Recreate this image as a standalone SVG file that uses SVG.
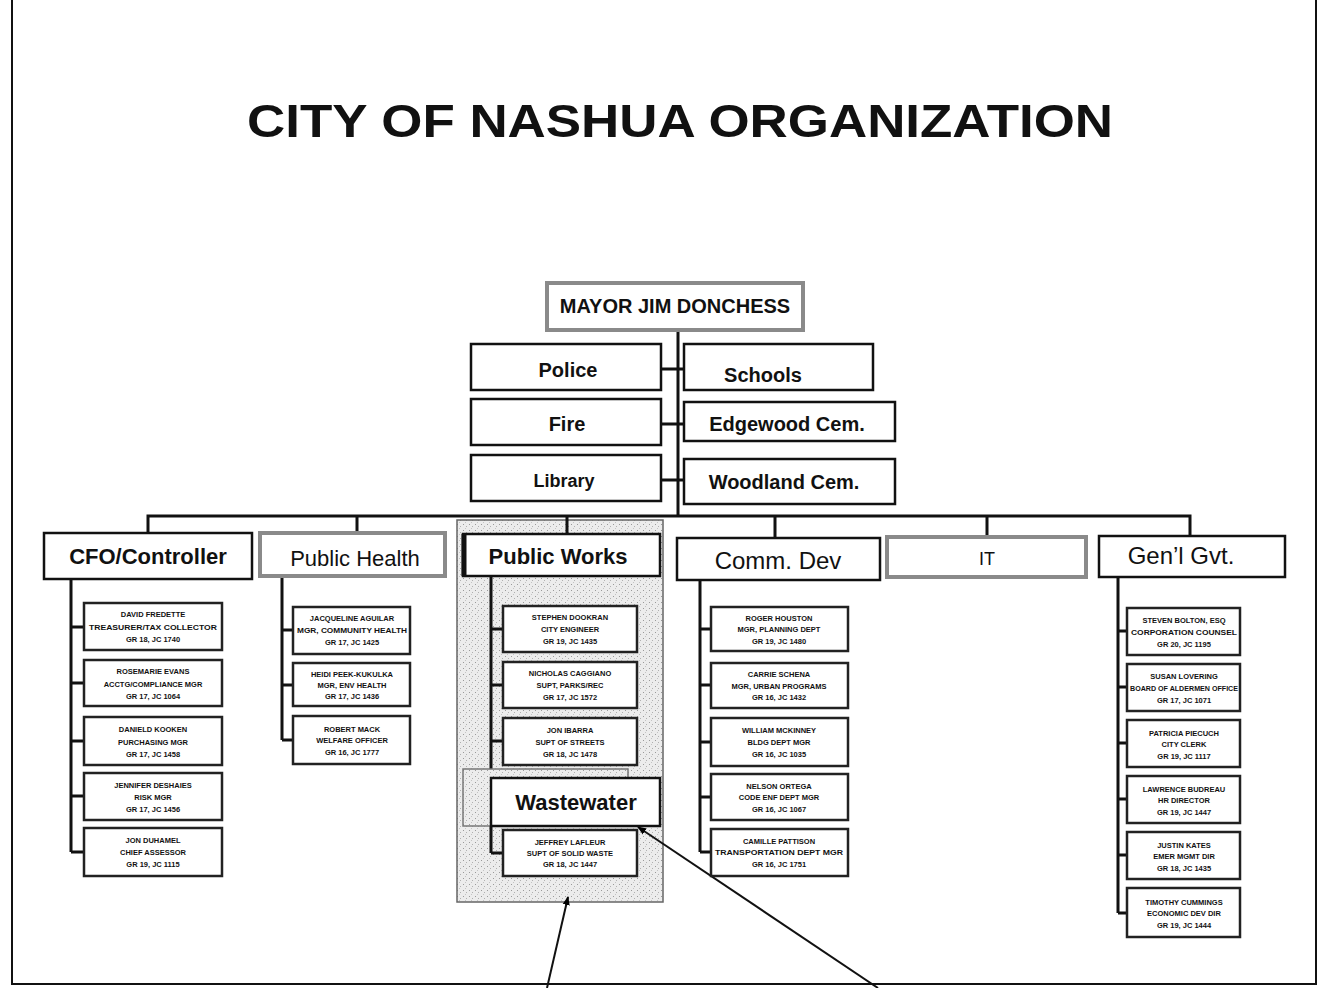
<svg xmlns="http://www.w3.org/2000/svg" width="1326" height="988" viewBox="0 0 1326 988">
<defs>
<pattern id="speck" width="6" height="6" patternUnits="userSpaceOnUse">
<rect width="6" height="6" fill="#ececec"/>
<rect x="1" y="2" width="1" height="1" fill="#9a9a9a"/>
<rect x="4" y="4" width="1" height="1" fill="#b0b0b0"/>
<rect x="3" y="0" width="1" height="1" fill="#c4c4c4"/>
</pattern>
<marker id="arr" viewBox="0 0 10 10" refX="9" refY="5" markerWidth="9" markerHeight="9" orient="auto" markerUnits="userSpaceOnUse">
<path d="M0,1 L10,5 L0,9 Z" fill="#000"/>
</marker>
</defs>
<style>
.frame{fill:#fff;stroke:#111;stroke-width:2}
.title{font-family:"Liberation Sans",Arial,sans-serif;font-weight:bold;font-size:46px;fill:#111}
.box{fill:#fff;stroke:#111;stroke-width:2.5}
.gbox{fill:#fff;stroke:#8a8a8a;stroke-width:4}
.sub{fill:#fff;stroke:#222;stroke-width:2.5}
.t20{font-family:"Liberation Sans",Arial,sans-serif;font-weight:bold;font-size:20px;fill:#111;text-anchor:middle}
.t22{font-family:"Liberation Sans",Arial,sans-serif;font-size:22px;fill:#111;text-anchor:middle}
.t22b{font-family:"Liberation Sans",Arial,sans-serif;font-weight:bold;font-size:22px;fill:#111;text-anchor:middle}
.s{font-family:"Liberation Sans",Arial,sans-serif;font-weight:bold;font-size:7.5px;fill:#111;text-anchor:middle}
.ln{fill:none;stroke:#111;stroke-width:3}
.ar{fill:none;stroke:#111;stroke-width:2}
</style>
<rect class="frame" x="12" y="-2" width="1304" height="986"/>
<text class="title" x="680" y="137" text-anchor="middle" textLength="866" lengthAdjust="spacingAndGlyphs">CITY OF NASHUA ORGANIZATION</text>

<!-- Public Works highlight region -->
<rect x="457" y="520" width="206" height="382" fill="url(#speck)" stroke="#666" stroke-width="1.5"/>

<g id="connectors">
<path class="ln" d="M678,330 V516"/>
<path class="ln" d="M661,369 H684 M661,424 H684 M661,480 H684"/>
<path class="ln" d="M148,533 V516 H1190 V536 M357,516 V533 M567,516 V534 M775,516 V538 M987,516 V537"/>
<path class="ln" d="M71,579 V852 M71,627 H84 M71,683 H84 M71,741 H84 M71,796 H84 M71,852 H84"/>
<path class="ln" d="M282,576 V740 M282,630 H293 M282,685 H293 M282,740 H293"/>
<path class="ln" d="M491,576 V853 M491,629 H503 M491,685 H503 M491,741 H503 M491,853 H503"/>
<path class="ln" d="M700,580 V852 M700,629 H711 M700,685 H711 M700,742 H711 M700,797 H711 M700,852 H711"/>
<path class="ln" d="M1118,577 V913 M1118,631 H1127 M1118,687 H1127 M1118,743 H1127 M1118,799 H1127 M1118,855 H1127 M1118,913 H1127"/>
<line class="ar" x1="547" y1="988" x2="568" y2="897" marker-end="url(#arr)"/>
<line class="ar" x1="878" y1="988" x2="638" y2="827" marker-end="url(#arr)"/>
</g>

<g id="mayor"><rect class="gbox" x="547" y="283" width="256" height="47"/><text class="t20" x="675" y="313">MAYOR JIM DONCHESS</text></g>
<g id="police"><rect class="box" x="471" y="344" width="190" height="46"/><text class="t20" x="568" y="377">Police</text></g>
<g id="schools"><rect class="box" x="684" y="344" width="189" height="46"/><text class="t20" x="763" y="382">Schools</text></g>
<g id="fire"><rect class="box" x="471" y="399" width="190" height="46"/><text class="t20" x="567" y="431">Fire</text></g>
<g id="edgewood"><rect class="box" x="684" y="402" width="211" height="39"/><text class="t20" x="787" y="431">Edgewood Cem.</text></g>
<g id="library"><rect class="box" x="471" y="455" width="190" height="46"/><text class="t20" x="564" y="487" style="font-size:18px">Library</text></g>
<g id="woodland"><rect class="box" x="684" y="459" width="211" height="45"/><text class="t20" x="784" y="489">Woodland Cem.</text></g>

<g id="cfo"><rect class="box" x="44" y="533" width="208" height="46"/><text class="t22b" x="148" y="564">CFO/Controller</text></g>
<g id="publichealth"><rect class="gbox" x="260" y="533" width="185" height="43"/><text class="t22" x="355" y="566">Public Health</text></g>
<g id="publicworks"><rect class="box" x="463" y="534" width="197" height="42"/><path d="M464,534 V576" stroke="#111" stroke-width="5"/><text class="t22b" x="558" y="564">Public Works</text></g>
<g id="commdev"><rect class="box" x="677" y="538" width="203" height="42"/><text class="t22" x="778" y="569" style="font-size:24px">Comm. Dev</text></g>
<g id="it"><rect class="gbox" x="887" y="537" width="199" height="40"/><text class="t22" x="987" y="565" style="font-size:18px">IT</text></g>
<g id="genlgvt"><rect class="box" x="1099" y="536" width="186" height="41"/><text class="t22" x="1181" y="564" style="font-size:24px">Gen’l Gvt.</text></g>

<!-- CFO subordinates -->
<g id="fredette"><rect class="sub" x="84" y="603" width="138" height="47"/><text class="s" x="153" y="617">DAVID FREDETTE</text><text class="s" x="153" y="630" textLength="128" lengthAdjust="spacingAndGlyphs">TREASURER/TAX COLLECTOR</text><text class="s" x="153" y="642">GR 18, JC 1740</text></g>
<g id="evans"><rect class="sub" x="84" y="660" width="138" height="46"/><text class="s" x="153" y="674">ROSEMARIE EVANS</text><text class="s" x="153" y="687">ACCTG/COMPLIANCE MGR</text><text class="s" x="153" y="699">GR 17, JC 1064</text></g>
<g id="kooken"><rect class="sub" x="84" y="717" width="138" height="48"/><text class="s" x="153" y="732">DANIELD KOOKEN</text><text class="s" x="153" y="745">PURCHASING MGR</text><text class="s" x="153" y="757">GR 17, JC 1458</text></g>
<g id="deshaies"><rect class="sub" x="84" y="773" width="138" height="47"/><text class="s" x="153" y="788">JENNIFER DESHAIES</text><text class="s" x="153" y="800">RISK MGR</text><text class="s" x="153" y="812">GR 17, JC 1456</text></g>
<g id="duhamel"><rect class="sub" x="84" y="828" width="138" height="48"/><text class="s" x="153" y="843">JON DUHAMEL</text><text class="s" x="153" y="855">CHIEF ASSESSOR</text><text class="s" x="153" y="867">GR 19, JC 1115</text></g>

<!-- Public Health subordinates -->
<g id="aguilar"><rect class="sub" x="293" y="607" width="117" height="47"/><text class="s" x="352" y="621">JACQUELINE AGUILAR</text><text class="s" x="352" y="633" textLength="110" lengthAdjust="spacingAndGlyphs">MGR, COMMUNITY HEALTH</text><text class="s" x="352" y="645">GR 17, JC 1425</text></g>
<g id="peekkukulka"><rect class="sub" x="293" y="663" width="117" height="43"/><text class="s" x="352" y="677">HEIDI PEEK-KUKULKA</text><text class="s" x="352" y="688">MGR, ENV HEALTH</text><text class="s" x="352" y="699">GR 17, JC 1436</text></g>
<g id="mack"><rect class="sub" x="293" y="716" width="117" height="48"/><text class="s" x="352" y="732">ROBERT MACK</text><text class="s" x="352" y="743">WELFARE OFFICER</text><text class="s" x="352" y="755">GR 16, JC 1777</text></g>

<!-- Public Works subordinates -->
<g id="dookran"><rect class="sub" x="503" y="606" width="134" height="46"/><text class="s" x="570" y="620">STEPHEN DOOKRAN</text><text class="s" x="570" y="632">CITY ENGINEER</text><text class="s" x="570" y="644">GR 19, JC 1435</text></g>
<g id="caggiano"><rect class="sub" x="503" y="662" width="134" height="46"/><text class="s" x="570" y="676">NICHOLAS CAGGIANO</text><text class="s" x="570" y="688">SUPT, PARKS/REC</text><text class="s" x="570" y="700">GR 17, JC 1572</text></g>
<g id="ibarra"><rect class="sub" x="503" y="718" width="134" height="47"/><text class="s" x="570" y="733">JON IBARRA</text><text class="s" x="570" y="745">SUPT OF STREETS</text><text class="s" x="570" y="757">GR 18, JC 1478</text></g>
<g id="wastewater"><rect x="463" y="769" width="165" height="57" fill="url(#speck)" stroke="#777" stroke-width="1.5"/><rect x="491" y="778" width="169" height="48" fill="#fff" stroke="#111" stroke-width="2.5"/><text class="t22b" x="576" y="810">Wastewater</text></g>
<g id="lafleur"><rect class="sub" x="503" y="830" width="134" height="46"/><text class="s" x="570" y="845">JEFFREY LAFLEUR</text><text class="s" x="570" y="856">SUPT OF SOLID WASTE</text><text class="s" x="570" y="867">GR 18, JC 1447</text></g>

<!-- Comm Dev subordinates -->
<g id="houston"><rect class="sub" x="711" y="607" width="137" height="44"/><text class="s" x="779" y="621">ROGER HOUSTON</text><text class="s" x="779" y="632">MGR, PLANNING DEPT</text><text class="s" x="779" y="644">GR 19, JC 1480</text></g>
<g id="schena"><rect class="sub" x="711" y="663" width="137" height="45"/><text class="s" x="779" y="677">CARRIE SCHENA</text><text class="s" x="779" y="689">MGR, URBAN PROGRAMS</text><text class="s" x="779" y="700">GR 16, JC 1432</text></g>
<g id="mckinney"><rect class="sub" x="711" y="718" width="137" height="48"/><text class="s" x="779" y="733">WILLIAM MCKINNEY</text><text class="s" x="779" y="745">BLDG DEPT MGR</text><text class="s" x="779" y="757">GR 16, JC 1035</text></g>
<g id="ortega"><rect class="sub" x="711" y="774" width="137" height="46"/><text class="s" x="779" y="789">NELSON ORTEGA</text><text class="s" x="779" y="800">CODE ENF DEPT MGR</text><text class="s" x="779" y="812">GR 16, JC 1067</text></g>
<g id="pattison"><rect class="sub" x="711" y="829" width="137" height="47"/><text class="s" x="779" y="844">CAMILLE PATTISON</text><text class="s" x="779" y="855" textLength="128" lengthAdjust="spacingAndGlyphs">TRANSPORTATION DEPT MGR</text><text class="s" x="779" y="867">GR 16, JC 1751</text></g>

<!-- Gen'l Gvt subordinates -->
<g id="bolton"><rect class="sub" x="1127" y="608" width="113" height="47"/><text class="s" x="1184" y="623">STEVEN BOLTON, ESQ</text><text class="s" x="1184" y="635" textLength="106" lengthAdjust="spacingAndGlyphs">CORPORATION COUNSEL</text><text class="s" x="1184" y="647">GR 20, JC 1195</text></g>
<g id="lovering"><rect class="sub" x="1127" y="664" width="113" height="47"/><text class="s" x="1184" y="679">SUSAN LOVERING</text><text class="s" x="1184" y="691" textLength="108" lengthAdjust="spacingAndGlyphs">BOARD OF ALDERMEN OFFICE</text><text class="s" x="1184" y="703">GR 17, JC 1071</text></g>
<g id="piecuch"><rect class="sub" x="1127" y="720" width="113" height="47"/><text class="s" x="1184" y="736">PATRICIA PIECUCH</text><text class="s" x="1184" y="747">CITY CLERK</text><text class="s" x="1184" y="759">GR 19, JC 1117</text></g>
<g id="budreau"><rect class="sub" x="1127" y="776" width="113" height="47"/><text class="s" x="1184" y="792">LAWRENCE BUDREAU</text><text class="s" x="1184" y="803">HR DIRECTOR</text><text class="s" x="1184" y="815">GR 19, JC 1447</text></g>
<g id="kates"><rect class="sub" x="1127" y="832" width="113" height="47"/><text class="s" x="1184" y="848">JUSTIN KATES</text><text class="s" x="1184" y="859">EMER MGMT DIR</text><text class="s" x="1184" y="871">GR 18, JC 1435</text></g>
<g id="cummings"><rect class="sub" x="1127" y="888" width="113" height="49"/><text class="s" x="1184" y="905">TIMOTHY CUMMINGS</text><text class="s" x="1184" y="916">ECONOMIC DEV DIR</text><text class="s" x="1184" y="928">GR 19, JC 1444</text></g>
</svg>
